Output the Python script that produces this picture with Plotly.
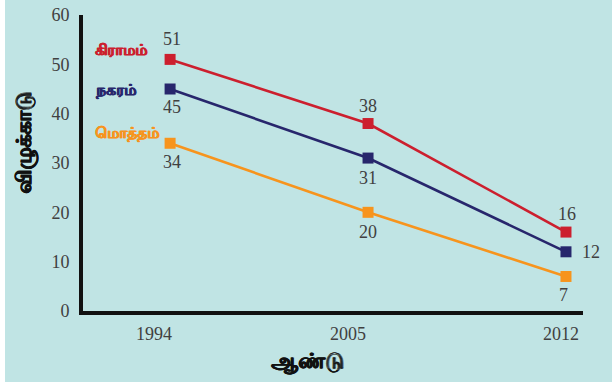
import plotly.graph_objects as go

# Survey years and percentages by area
years = ["1994", "2005", "2012"]
rural = [51, 38, 16]
urban = [45, 31, 12]
total = [34, 20, 7]

series_names = ["கிராமம்", "நகரம்", "மொத்தம்"]
y_title = "விழுக்காடு"
x_title = "ஆண்டு"
y_ticks = [0, 10, 20, 30, 40, 50, 60]

RED = "#cc1f2e"
NAVY = "#27266c"
ORANGE = "#f7941d"
BG = "#c0e4e4"
NUM_FONT = dict(family="Liberation Serif, serif", size=18, color="#404040")


def heavy(size, color):
    # Tamil face has no bold cut, so thicken the strokes with a tight shadow
    return dict(family="Noto Sans, sans-serif", size=size, color=color, weight=700,
                shadow=f"0.6px 0 0 {color}, -0.3px 0 0 {color}")


L, R, T, B = 83, 29, 15, 71
PW, PH = 612 - L - R, 382 - T - B

fig = go.Figure()


# (xshift, yshift) of each value label relative to its point
def add_series(values, color, offsets):
    fig.add_trace(go.Scatter(
        x=years, y=values, mode="lines+markers",
        line=dict(color=color, width=2.6),
        marker=dict(symbol="square", size=11, color=color),
        cliponaxis=False, showlegend=False,
    ))
    # category positions are addressed by index so year labels are not read as numbers
    for i, (v, (dx, dy)) in enumerate(zip(values, offsets)):
        fig.add_annotation(x=i, y=v, xref="x", yref="y", text=str(v),
                           showarrow=False, xanchor="center", yanchor="middle",
                           xshift=dx, yshift=dy, font=NUM_FONT)


add_series(rural, RED, [(2, 20), (0, 18), (1, 18)])
add_series(urban, NAVY, [(2, -18), (0, -20), (25, 0)])
add_series(total, ORANGE, [(2, -19), (0, -20), (-2, -19)])

# Year labels under the axis, each nudged left of its category centre
year_shift = [-16, -20, -5]
for i, (yr, dx) in enumerate(zip(years, year_shift)):
    fig.add_annotation(x=i, y=0, xref="x", yref="paper", text=yr, showarrow=False,
                       xanchor="center", yanchor="middle", xshift=dx, yshift=-23,
                       font=NUM_FONT)

# Series names written next to the first point
name_y = [53.1, 45.0, 36.1]
for name, yy, color in zip(series_names, name_y, [RED, NAVY, ORANGE]):
    fig.add_annotation(
        x=-0.39, y=yy, xref="x", yref="y", text=f"<b>{name}</b>",
        showarrow=False, xanchor="left", yanchor="middle",
        font=heavy(15, color),
    )

# Axis titles
fig.add_annotation(x=(24 - L) / PW, y=(311 - 143) / PH, xref="paper", yref="paper",
                   text=f"<b>{y_title}</b>", textangle=-90, showarrow=False,
                   xanchor="center", yanchor="middle", font=heavy(21, "#111"))
fig.add_annotation(x=(307 - L) / PW, y=(311 - 360) / PH, xref="paper", yref="paper",
                   text=f"<b>{x_title}</b>", showarrow=False,
                   xanchor="center", yanchor="middle", font=heavy(21, "#111"))

# Narrow white strip at the left edge of the page
fig.add_shape(type="rect", xref="paper", yref="paper",
              x0=-0.3, x1=(5 - L) / PW, y0=-0.5, y1=1.2,
              fillcolor="white", line_width=0, layer="below")

fig.update_layout(
    width=612, height=382,
    margin=dict(l=L, r=R, t=T, b=B),
    paper_bgcolor=BG, plot_bgcolor=BG,
    xaxis=dict(
        type="category", range=[-0.44, 2.086], automargin=False,
        showgrid=False, zeroline=False, showticklabels=False,
        showline=True, linecolor="#111", linewidth=4, ticks="",
    ),
    yaxis=dict(
        range=[0, 60], tickvals=y_ticks, automargin=False,
        showgrid=False, zeroline=False,
        showline=True, linecolor="#111", linewidth=4,
        ticks="", tickfont=NUM_FONT, ticklabelstandoff=6,
    ),
)

fig.write_html("out.html")
